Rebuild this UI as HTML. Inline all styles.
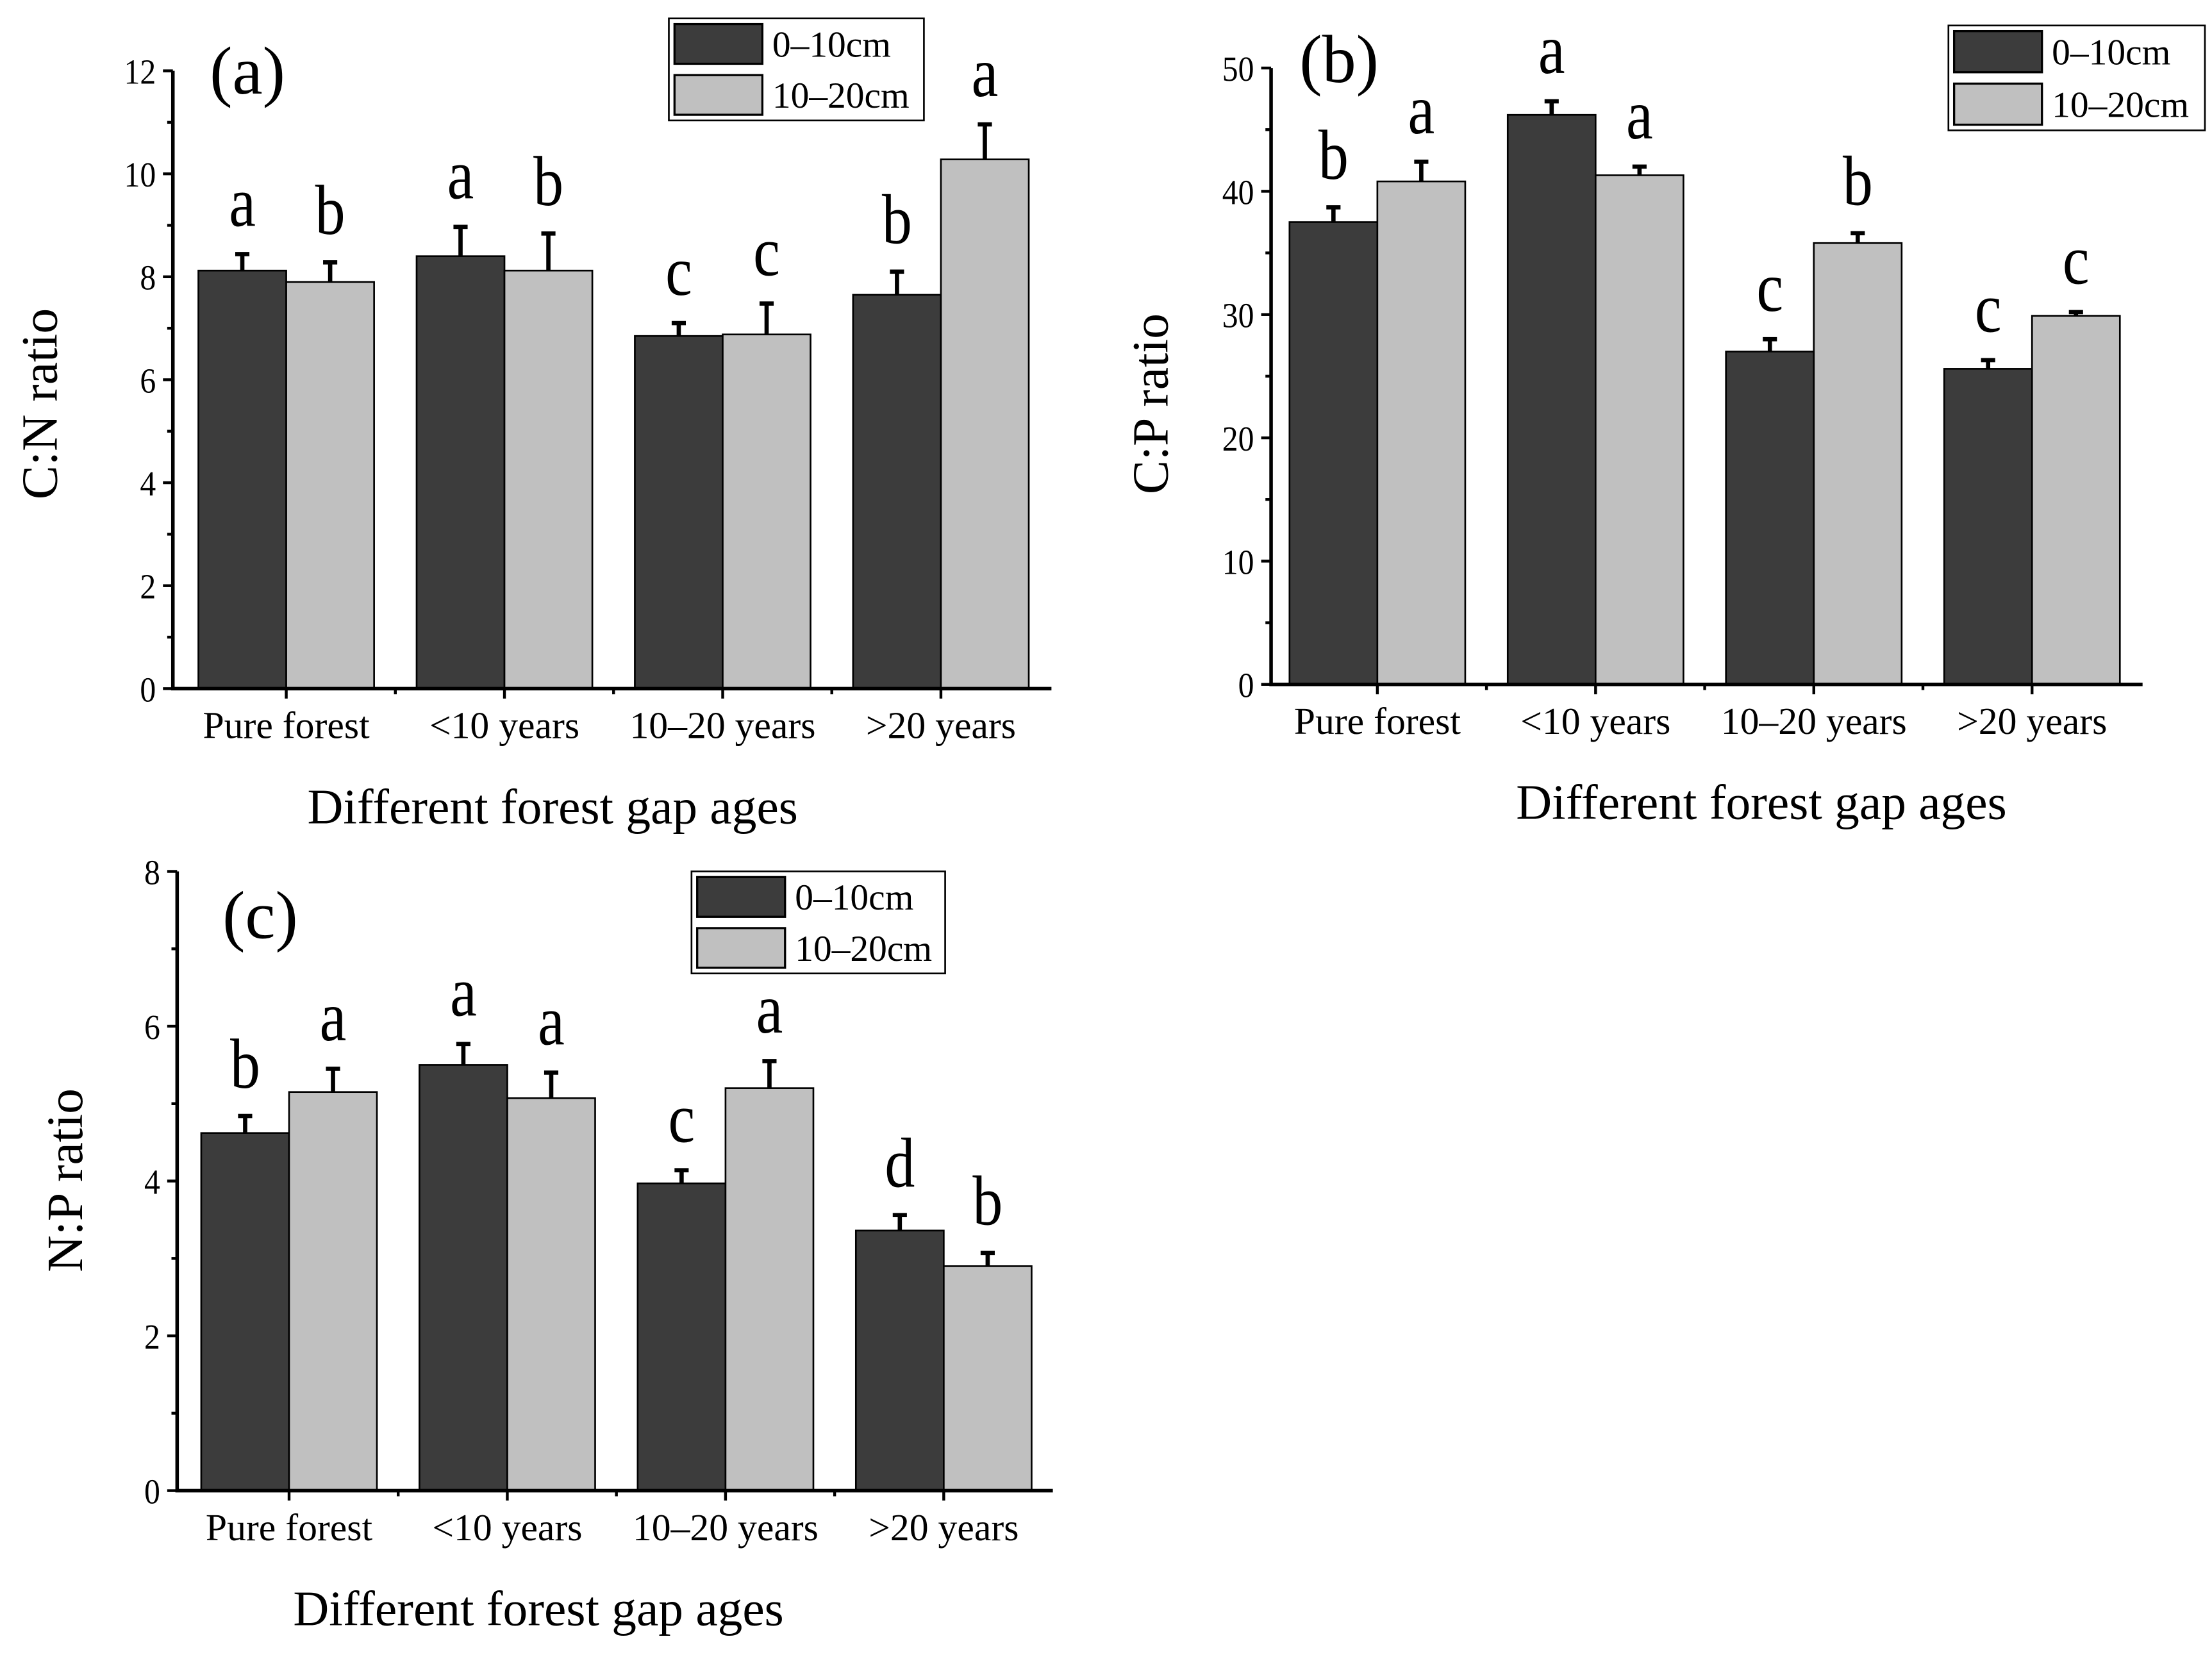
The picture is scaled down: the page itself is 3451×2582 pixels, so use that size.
<!DOCTYPE html>
<html><head><meta charset="utf-8"><style>
html,body{margin:0;padding:0;background:#fff;}
svg{display:block;font-family:"Liberation Serif",serif;}
</style></head><body>
<svg id="fig" width="3451" height="2582" viewBox="0 0 1561 1168" preserveAspectRatio="none" xmlns="http://www.w3.org/2000/svg"></svg>
<script>
const categories = ["Pure forest","<10 years","10–20 years",">20 years"];
const seriesNames = ["0–10cm","10–20cm"];
// Panel a: C:N
const cnDark = [8.12,8.4,6.85,7.65];
const cnLight = [7.9,8.12,6.88,10.28];
const cnDarkErr = [0.32,0.57,0.25,0.45];
const cnLightErr = [0.38,0.72,0.6,0.68];
const cnDarkLetters = ["a","a","c","b"];
const cnLightLetters = ["b","b","c","a"];
const cnTicks = [0,2,4,6,8,10,12];
// Panel b: C:P
const cpDark = [37.5,46.2,27.0,25.6];
const cpLight = [40.8,41.3,35.8,29.9];
const cpDarkErr = [1.2,1.1,1.0,0.7];
const cpLightErr = [1.6,0.7,0.8,0.3];
const cpDarkLetters = ["b","a","c","c"];
const cpLightLetters = ["a","a","b","c"];
const cpTicks = [0,10,20,30,40,50];
// Panel c: N:P
const npDark = [4.62,5.5,3.97,3.36];
const npLight = [5.15,5.07,5.2,2.9];
const npDarkErr = [0.22,0.27,0.17,0.2];
const npLightErr = [0.3,0.33,0.35,0.17];
const npDarkLetters = ["b","a","c","d"];
const npLightLetters = ["a","a","a","b"];
const npTicks = [0,2,4,6,8];

const NS="http://www.w3.org/2000/svg";
const svg=document.getElementById('fig');
function mk(tag,attrs,parent,text){const e=document.createElementNS(NS,tag);for(const k in attrs)e.setAttribute(k,attrs[k]);if(text!==undefined)e.textContent=text;(parent||svg).appendChild(e);return e;}

function panel(cfg){
  const g=mk('g',{});
  
  
  const ymax=cfg.ticks[cfg.ticks.length-1];
  const y=v=>cfg.y0-(cfg.y0-cfg.yTop)*v/ymax;
  const step=154;
  const cx=i=>cfg.firstTick+step*i;
  const bw=62;
  for(let i=0;i<4;i++){
    [[cfg.dark,cfg.darkErr,cfg.darkL,'#3c3c3c',-1],[cfg.light,cfg.lightErr,cfg.lightL,'#c0c0c0',0]].forEach((s,si)=>{
      const v=s[0][i],e=s[1][i];
      const x=cx(i)+s[4]*bw;
      const r=mk('rect',{x:x,y:y(v),width:bw,height:cfg.y0-y(v),fill:s[3],stroke:'#000','stroke-width':1.2},g);
      
      
      const m=x+bw/2;
      const eb=mk('path',{d:`M${m},${y(v)}V${y(v+e)}M${m-5},${y(v+e)}H${m+5}`,stroke:'#000','stroke-width':3,fill:'none'},g);
      
      
      const t=mk('text',{x:0,y:0,'font-size':50,'text-anchor':'middle',transform:`translate(${m},${y(v+e)-20}) scale(0.85,1)`},g,s[2][i]);
      
      
    });
  }
  const ax=mk('path',{d:`M${cfg.x0},${cfg.yTop}V${cfg.y0}H${cfg.xEnd}`,stroke:'#000','stroke-width':2.5,fill:'none'},g);
  
  
  cfg.ticks.forEach((t,k)=>{
    mk('line',{x1:cfg.x0-7,x2:cfg.x0,y1:y(t),y2:y(t),stroke:'#000','stroke-width':2},g);
    if(k<cfg.ticks.length-1){const mv=(t+cfg.ticks[k+1])/2;mk('line',{x1:cfg.x0-4,x2:cfg.x0,y1:y(mv),y2:y(mv),stroke:'#000','stroke-width':2},g);}
    const tl=mk('text',{x:0,y:0,'font-size':25,'text-anchor':'end',transform:`translate(${cfg.x0-12},${y(t)+9}) scale(0.9,1)`},g,t);
    
    
  });
  for(let i=0;i<4;i++){
    mk('line',{x1:cx(i),x2:cx(i),y1:cfg.y0,y2:cfg.y0+7,stroke:'#000','stroke-width':2},g);
    if(i<3){const mx=cx(i)+step/2;mk('line',{x1:mx,x2:mx,y1:cfg.y0,y2:cfg.y0+4,stroke:'#000','stroke-width':2},g);}
    const xl=mk('text',{x:cx(i),y:cfg.y0+35,'font-size':27,'text-anchor':'middle'},g,categories[i]);
    
    
  }
  const xt=mk('text',{x:cfg.xtX,y:cfg.y0+95,'font-size':35,'text-anchor':'middle'},g,'Different forest gap ages');
  
  
  const yt=mk('text',{x:0,y:0,'font-size':36,'text-anchor':'middle',transform:`translate(${cfg.ytX},${cfg.ytY}) rotate(-90)`},g,cfg.ylabel);
  
  
  const pl=mk('text',{x:cfg.plX,y:cfg.plY,'font-size':48},g,cfg.plabel);
  
  
  const L=cfg.leg;
  const lg=mk('g',{},g);
  
  
  mk('rect',{x:L[0],y:L[1],width:L[2]-L[0],height:L[3]-L[1],fill:'#fff',stroke:'#000','stroke-width':1.2},lg);
  const hh=(L[3]-L[1]);
  [['#3c3c3c',0],['#c0c0c0',1]].forEach(([c,k])=>{
    const ey=L[1]+4+k*hh/2;
    const le=mk('rect',{x:L[0]+4,y:ey,width:62,height:hh/2-8,fill:c,stroke:'#000','stroke-width':1.5},lg);
    
    
    const lt=mk('text',{x:L[0]+73,y:ey+hh/4+5,'font-size':26},lg,seriesNames[k]);
    
    
  });
}
panel({name:'panel-a-cn',x0:122,xEnd:742,firstTick:202,y0:486,yTop:50,ticks:cnTicks,dark:cnDark,light:cnLight,darkErr:cnDarkErr,lightErr:cnLightErr,darkL:cnDarkLetters,lightL:cnLightLetters,ylabel:'C:N ratio',ytX:40,ytY:285,xtX:390,plabel:'(a)',plX:148,plY:66,leg:[472,13,652,85]});
panel({name:'panel-b-cp',x0:897,xEnd:1512,firstTick:972,y0:483,yTop:48,ticks:cpTicks,dark:cpDark,light:cpLight,darkErr:cpDarkErr,lightErr:cpLightErr,darkL:cpDarkLetters,lightL:cpLightLetters,ylabel:'C:P ratio',ytX:824,ytY:285,xtX:1243,plabel:'(b)',plX:917,plY:58,leg:[1375,18,1556,92]});
panel({name:'panel-c-np',x0:125,xEnd:743,firstTick:204,y0:1052,yTop:615,ticks:npTicks,dark:npDark,light:npLight,darkErr:npDarkErr,lightErr:npLightErr,darkL:npDarkLetters,lightL:npLightLetters,ylabel:'N:P ratio',ytX:58,ytY:833,xtX:380,plabel:'(c)',plX:157,plY:662,leg:[488,615,667,687]});
</script>
</body></html>
